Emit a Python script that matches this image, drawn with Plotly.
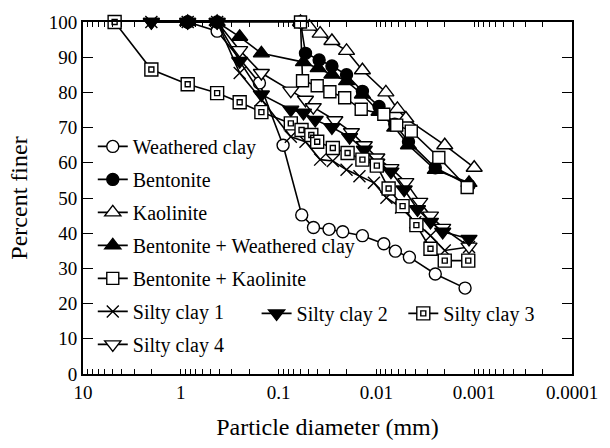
import math
import plotly.graph_objects as go

# ---------------- data (particle diameter in mm, percent finer) ----------------
wc_d = [0.85, 0.425, 0.157, 0.090, 0.058, 0.044, 0.0305, 0.0221, 0.0139, 0.0084, 0.0064, 0.0046, 0.0025, 0.00124]
wc_p = [100, 97.4, 82.7, 65.0, 45.2, 41.6, 41.1, 40.4, 39.3, 37.0, 34.9, 33.2, 28.4, 24.4]

bent_d = [0.85, 0.425, 0.0597, 0.0531, 0.0385, 0.0285, 0.0202, 0.0139, 0.0094, 0.0065, 0.0047, 0.0025, 0.00113]
bent_p = [100, 100, 100, 91.1, 89.2, 87.5, 85.0, 80.3, 76.0, 71.0, 66.0, 58.6, 53.6]

kao_d = [0.0597, 0.0485, 0.0376, 0.0285, 0.0202, 0.0139, 0.0080, 0.0061, 0.0050, 0.0020, 0.00100]
kao_p = [100, 98.7, 96.7, 94.6, 91.8, 86.3, 80.0, 75.3, 72.6, 65.0, 58.6]

bw_d = [0.85, 0.425, 0.25, 0.15, 0.0557, 0.0394, 0.0285, 0.0202, 0.0139, 0.0094, 0.0065, 0.0047, 0.0025, 0.00113]
bw_p = [100, 100, 95.8, 91.1, 88.6, 86.9, 85.1, 83.2, 79.4, 74.5, 70.0, 65.0, 58.0, 54.3]

bk_d = [0.0597, 0.0569, 0.0403, 0.0299, 0.0211, 0.0143, 0.0084, 0.0062, 0.0044, 0.0023, 0.00118]
bk_p = [100, 83.3, 81.9, 80.2, 78.5, 75.2, 73.8, 70.7, 69.0, 61.5, 53.0]

sc1_d = [2.0, 0.85, 0.425, 0.25, 0.15, 0.075, 0.0531, 0.0376, 0.0279, 0.0202, 0.0149, 0.0106, 0.0079, 0.0056, 0.0040, 0.0028, 0.0020, 0.00113]
sc1_p = [100, 100, 100, 85.5, 78.0, 67.4, 66.0, 60.9, 60.5, 58.0, 56.2, 54.3, 50.1, 47.3, 43.1, 39.3, 35.1, 36.1]

sc2_d = [2.0, 0.85, 0.425, 0.25, 0.15, 0.075, 0.0557, 0.0422, 0.0285, 0.0188, 0.0133, 0.0099, 0.0071, 0.0052, 0.0038, 0.0028, 0.0021, 0.00113]
sc2_p = [100, 100, 100, 88.9, 79.4, 75.1, 74.2, 72.2, 70.1, 67.3, 63.7, 60.0, 57.5, 52.4, 46.8, 43.2, 40.4, 38.4]

sc3_d = [4.75, 2.0, 0.85, 0.425, 0.25, 0.15, 0.075, 0.0583, 0.0463, 0.0403, 0.0279, 0.0197, 0.0139, 0.0099, 0.0075, 0.0054, 0.0039, 0.0028, 0.0020, 0.00115]
sc3_p = [100, 86.5, 82.3, 79.8, 77.2, 74.4, 71.2, 69.3, 67.9, 66.0, 64.2, 62.8, 60.9, 59.2, 52.7, 47.7, 42.3, 35.6, 32.2, 32.2]

sc4_d = [2.0, 0.85, 0.425, 0.25, 0.15, 0.075, 0.0531, 0.0442, 0.0266, 0.0180, 0.0133, 0.0099, 0.0071, 0.0050, 0.0036, 0.0028, 0.0021, 0.00113]
sc4_p = [100, 100, 100, 92.0, 85.5, 80.5, 77.9, 75.8, 72.1, 68.7, 65.0, 61.5, 58.5, 54.5, 48.9, 45.0, 41.5, 36.2]

x_major_vals = [10, 1, 0.1, 0.01, 0.001, 0.0001]
x_major_text = ["10", "1", "0.1", "0.01", "0.001", "0.0001"]
x_minor_vals = [m * 10.0 ** e for e in range(-4, 1) for m in range(2, 10)]

FONT = "Times New Roman"
LW = 1.6

fig = go.Figure()


def add(name, d, p, symbol, fill, size, legend="legend", mode="lines+markers", group=None):
    fig.add_trace(go.Scatter(
        x=d, y=p, name=name, mode=mode,
        line=dict(color="black", width=LW),
        marker=dict(symbol=symbol, size=size, color=fill,
                    line=dict(color="black", width=1.4)),
        cliponaxis=False, legend=legend,
        legendgroup=group or name,
    ))


add("Weathered clay", wc_d, wc_p, "circle", "white", 12)
add("Bentonite", bent_d, bent_p, "circle", "black", 12)
add("Kaolinite", kao_d, kao_p, "triangle-up", "white", 14)
add("Bentonite + Weathered clay", bw_d, bw_p, "triangle-up", "black", 14)
add("Bentonite + Kaolinite", bk_d, bk_p, "square", "white", 12)
add("Silty clay 1", sc1_d, sc1_p, "x-thin-open", "black", 12)
add("Silty clay 4", sc4_d, sc4_p, "triangle-down", "white", 14)
add("Silty clay 2", sc2_d, sc2_p, "triangle-down", "black", 14, legend="legend2")
add("Silty clay 3", sc3_d, sc3_p, "square", "white", 13, legend="legend3")
add(" ", sc3_d, sc3_p, "square-open", "black", 5, legend="legend4", mode="markers", group="sc3inner")

legend_common = dict(bgcolor="rgba(0,0,0,0)", xanchor="left", yanchor="top",
                     font=dict(size=20), itemwidth=30,
                     traceorder="grouped", tracegroupgap=4)

# long decade ticks (bottom and top, inside the frame)
shapes = []
for v in x_major_vals[1:-1]:
    for y0, y1 in ((0, 10 / 356), (1, 1 - 10 / 356)):
        shapes.append(dict(type="line", xref="x", yref="paper", x0=math.log10(v), x1=math.log10(v),
                           y0=y0, y1=y1, line=dict(color="black", width=1.3)))

fig.update_layout(
    width=610, height=448,
    margin=dict(l=83, r=28, t=21, b=71),
    font=dict(family=FONT, color="black", size=19),
    plot_bgcolor="white",
    showlegend=True,
    xaxis=dict(type="log", range=[1, -4], tickmode="array",
               tickvals=x_minor_vals + x_major_vals,
               ticktext=[""] * len(x_minor_vals) + x_major_text,
               ticks="inside", ticklen=5, tickwidth=1.2, tickcolor="black",
               showline=True, linewidth=2, linecolor="black", mirror="ticks",
               title=dict(text="Particle diameter (mm)", font=dict(size=24), standoff=16)),
    yaxis=dict(range=[0, 100], dtick=10,
               ticks="inside", ticklen=10, tickwidth=1.2, tickcolor="black",
               showline=True, linewidth=2, linecolor="black", mirror="ticks",
               title=dict(text="Percent finer", font=dict(size=24), standoff=14)),
    shapes=shapes,
    legend=dict(x=0.02, y=0.702, **legend_common),
    legend2=dict(x=0.355, y=0.2275, **legend_common),
    legend3=dict(x=0.655, y=0.2275, **legend_common),
    legend4=dict(x=0.655, y=0.2275, **legend_common),
)

fig.write_html("out.html")
